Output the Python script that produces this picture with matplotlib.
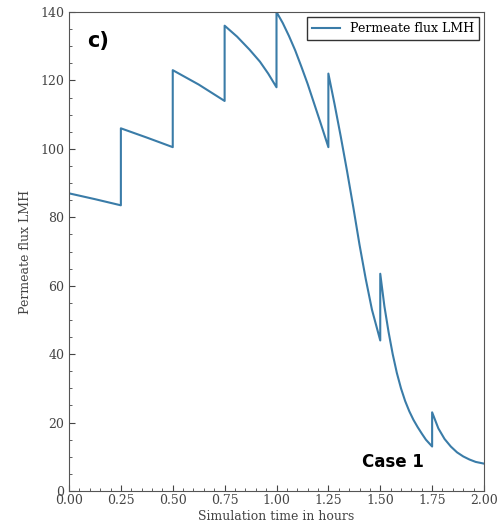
import matplotlib
matplotlib.use("Agg")
import matplotlib.pyplot as plt
from matplotlib.ticker import MultipleLocator

# time (hours) and permeate flux (LMH); duplicated times mark the jumps
time_h = [0.00, 0.125, 0.25,
          0.25, 0.375, 0.50,
          0.50, 0.625, 0.75,
          0.75, 0.81, 0.87, 0.92, 0.96, 1.00,
          1.00, 1.03, 1.06, 1.09, 1.12, 1.15, 1.18, 1.21, 1.25,
          1.25, 1.28, 1.31, 1.34, 1.37, 1.40, 1.43, 1.46, 1.50,
          1.50, 1.52, 1.54, 1.56, 1.58, 1.60, 1.62, 1.64, 1.66, 1.68, 1.70, 1.72, 1.75,
          1.75, 1.78, 1.81, 1.84, 1.87, 1.90, 1.93, 1.96, 2.00]
flux = [87.0, 85.3, 83.5,
        106.0, 103.3, 100.5,
        123.0, 118.8, 114.0,
        136.0, 132.8, 129.0, 125.5, 122.0, 118.0,
        140.0, 136.8, 133.0, 128.8, 124.0, 119.0, 113.5, 108.0, 100.5,
        122.0, 113.0, 103.5, 93.5, 83.0, 72.0, 62.0, 53.0, 44.0,
        63.5, 54.0, 46.5, 40.0, 34.5, 30.0, 26.3, 23.3, 20.8, 18.7, 16.8, 15.0, 13.0,
        23.0, 18.3, 15.2, 13.0, 11.3, 10.1, 9.2, 8.5, 8.0]

x_ticks = [0.00, 0.25, 0.50, 0.75, 1.00, 1.25, 1.50, 1.75, 2.00]
y_ticks = [0, 20, 40, 60, 80, 100, 120, 140]

fig = plt.figure(figsize=(5.04, 5.30), dpi=100)
ax = fig.add_axes([69/504, 1-491/530, (484-69)/504, (491-12)/530])

ax.plot(time_h, flux, color='#3a7ca8', lw=1.5, label='Permeate flux LMH')
ax.set_xlim(0, 2.0)
ax.set_ylim(0, 140)
ax.set_xticks(x_ticks)
ax.set_xticklabels([f"{v:.2f}" for v in x_ticks])
ax.set_yticks(y_ticks)
ax.xaxis.set_minor_locator(MultipleLocator(0.05))
ax.yaxis.set_minor_locator(MultipleLocator(5))
ax.tick_params(which='both', direction='in', colors='#444444', labelcolor='#444444',
               labelsize=9)
ax.tick_params(which='major', length=4)
ax.tick_params(which='minor', length=2)
ax.tick_params(axis='x', pad=2)
for lab in ax.get_xticklabels() + ax.get_yticklabels():
    lab.set_family('DejaVu Serif')
for s in ax.spines.values():
    s.set_color('#555555')

ax.set_xlabel('Simulation time in hours', family='DejaVu Serif', fontsize=9,
              color='#444444', labelpad=2)
ax.set_ylabel('Permeate flux LMH', family='DejaVu Serif', fontsize=9,
              color='#444444', labelpad=6)

leg = ax.legend(loc='upper right', prop={'family': 'DejaVu Serif', 'size': 9},
                fancybox=False, edgecolor='#333333', framealpha=1,
                borderaxespad=0.4, handlelength=2.2)
leg.get_frame().set_linewidth(1.0)

ax.text(0.14, 131.5, 'c)', fontsize=15, fontweight='bold', family='DejaVu Sans',
        va='center', ha='center')
ax.text(1.41, 8.5, 'Case 1', fontsize=12, fontweight='bold', family='DejaVu Sans',
        va='center', ha='left')

fig.savefig('out.png', dpi=100)
